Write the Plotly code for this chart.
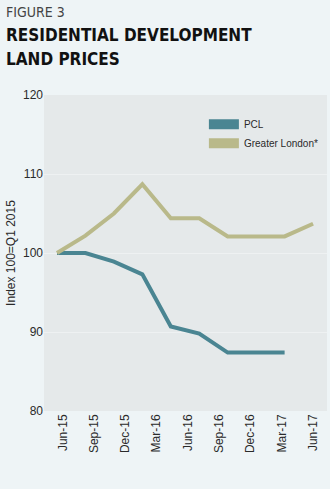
import plotly.graph_objects as go
import numpy as np

# Data
points = list(range(10))
pcl = [100.0, 100.0, 98.9, 97.3, 90.7, 89.8, 87.4, 87.4, 87.4, None]
greater_london = [100.0, 102.2, 105.0, 108.7, 104.4, 104.4, 102.1, 102.1, 102.1, 103.7]
tick_labels = ["Jun-15", "Sep-15", "Dec-15", "Mar-16", "Jun-16", "Sep-16", "Dec-16", "Mar-17", "Jun-17"]
y_ticks = [80, 90, 100, 110, 120]

PCL_COLOR = "#4a8592"
GL_COLOR = "#b9b98a"
FONT = "Liberation Sans"
COND = "DejaVu Sans Condensed"

fig = go.Figure()
fig.add_trace(go.Scatter(x=points, y=pcl, mode="lines", line=dict(color=PCL_COLOR, width=4),
                         showlegend=False, connectgaps=False))
fig.add_trace(go.Scatter(x=points, y=greater_london, mode="lines", line=dict(color=GL_COLOR, width=4),
                         showlegend=False))
# legend entries
fig.add_trace(go.Scatter(x=[None], y=[None], mode="lines", name="PCL",
                         line=dict(color=PCL_COLOR, width=11)))
fig.add_trace(go.Scatter(x=[None], y=[None], mode="lines", name="Greater London*",
                         line=dict(color=GL_COLOR, width=11)))

tickvals = list(np.linspace(0.2, 9, len(tick_labels)))

fig.update_layout(
    width=330, height=489,
    margin=dict(l=44, r=3, t=95, b=78),
    paper_bgcolor="#eef4f6",
    plot_bgcolor="#e5e9ea",
    font=dict(family=FONT, color="#2a2a2a", size=12),
    legend=dict(x=0.565, y=0.953, xanchor="left", yanchor="top",
                bgcolor="rgba(0,0,0,0)", font=dict(size=10, family=FONT),
                itemwidth=30, tracegroupgap=0),
    xaxis=dict(range=[-0.457, 9.49], tickmode="array", tickvals=tickvals, ticktext=tick_labels,
               tickangle=-90, showgrid=False, zeroline=False, ticks="", tickfont=dict(size=12)),
    yaxis=dict(range=[80, 120], tickvals=y_ticks, showgrid=True, gridcolor="#eef1f2", gridwidth=1,
               zeroline=False, ticks="", tickfont=dict(size=12),
               title=dict(text="Index 100=Q1 2015", font=dict(size=12), standoff=4)),
)

def py(px_y):
    return (489 - 78 - px_y) / (489 - 95 - 78)
def px(px_x):
    return (px_x - 44) / (330 - 44 - 3)

fig.add_annotation(text="FIGURE 3", x=px(4), y=py(12), xref="paper", yref="paper", showarrow=False,
                   xanchor="left", yanchor="middle",
                   font=dict(family=COND, size=14, color="#444444"))
fig.add_annotation(text="<b>RESIDENTIAL DEVELOPMENT</b>", x=px(4), y=py(35), xref="paper", yref="paper",
                   showarrow=False, xanchor="left", yanchor="middle",
                   font=dict(family=COND, size=17, color="#111111"))
fig.add_annotation(text="<b>LAND PRICES</b>", x=px(4), y=py(59), xref="paper", yref="paper",
                   showarrow=False, xanchor="left", yanchor="middle",
                   font=dict(family=COND, size=17, color="#111111"))

fig.write_html("out.html")
